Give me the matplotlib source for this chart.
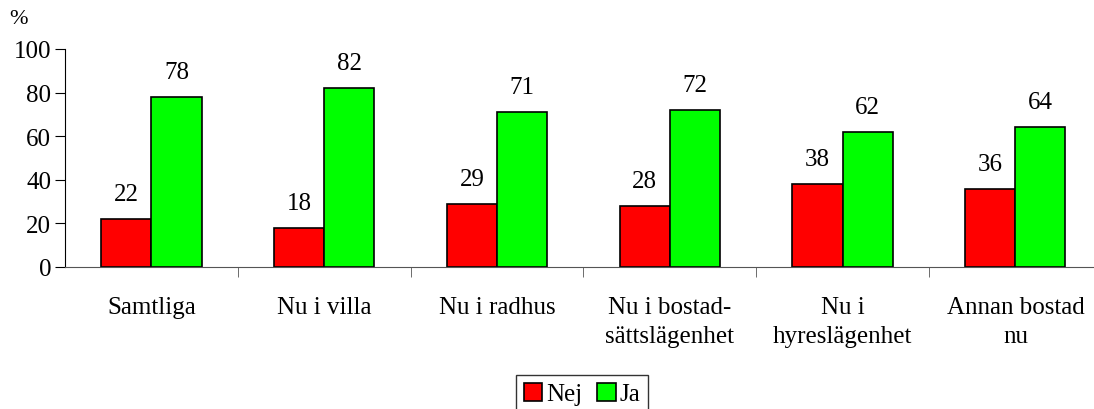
import numpy as np
from matplotlib import pyplot as plt

categories = ['Samtliga', 'Nu i villa', 'Nu i radhus', 'Nu i bostad-\nsättslägenhet',
              'Nu i\nhyreslägenhet', 'Annan bostad\nnu']
nej = [22, 18, 29, 28, 38, 36]
ja = [78, 82, 71, 72, 62, 64]

plt.rcParams['font.family'] = ['Liberation Serif', 'DejaVu Serif']

fig = plt.figure(figsize=(10.94, 4.10), dpi=100)
ax = fig.add_axes([65 / 1094, (410 - 268) / 410, (1094 - 65) / 1094, 218 / 410])

x = np.arange(len(categories))
w = 0.29
b1 = ax.bar(x - w / 2, nej, w, color='#ff0000', edgecolor='black', linewidth=1.2, label='Nej')
b2 = ax.bar(x + w / 2, ja, w, color='#00ff00', edgecolor='black', linewidth=1.2, label='Ja')

for bars, vals in [(b1, nej), (b2, ja)]:
    for rect, v in zip(bars, vals):
        ax.annotate(str(v), (rect.get_x() + rect.get_width() / 2, v),
                    xytext=(0, 18), textcoords='offset points',
                    ha='center', va='center', fontsize=18)

ax.set_xlim(-0.5, 5.455)
ax.set_ylim(0, 100)
ax.set_yticks(range(0, 101, 20))
ax.set_xticks(x)
ax.set_xticklabels(categories, fontsize=18, linespacing=1.4)
ax.set_xticks(np.arange(0.5, 5, 1), minor=True)
ax.tick_params(axis='x', which='major', length=0, pad=21)
ax.tick_params(axis='x', which='minor', length=7, direction='out', color='#555555')
ax.tick_params(axis='y', labelsize=18, length=7, direction='out', pad=3)

for s in ['top', 'right']:
    ax.spines[s].set_visible(False)
ax.spines['bottom'].set_color('#555555')
ax.spines['left'].set_color('black')

fig.text(18 / 1094, 1 - 20 / 410, '%', fontsize=16, ha='center', va='center')

leg = fig.legend(loc='upper center', bbox_to_anchor=(582 / 1094, 1 - 376 / 410), ncol=2,
                 fontsize=18, frameon=True, fancybox=False, edgecolor='black',
                 handlelength=0.75, handleheight=0.75, handletextpad=0.15, columnspacing=0.6,
                 borderpad=0.3, borderaxespad=0)
leg.get_frame().set_linewidth(1.0)

plt.savefig('out.png', dpi=100)
